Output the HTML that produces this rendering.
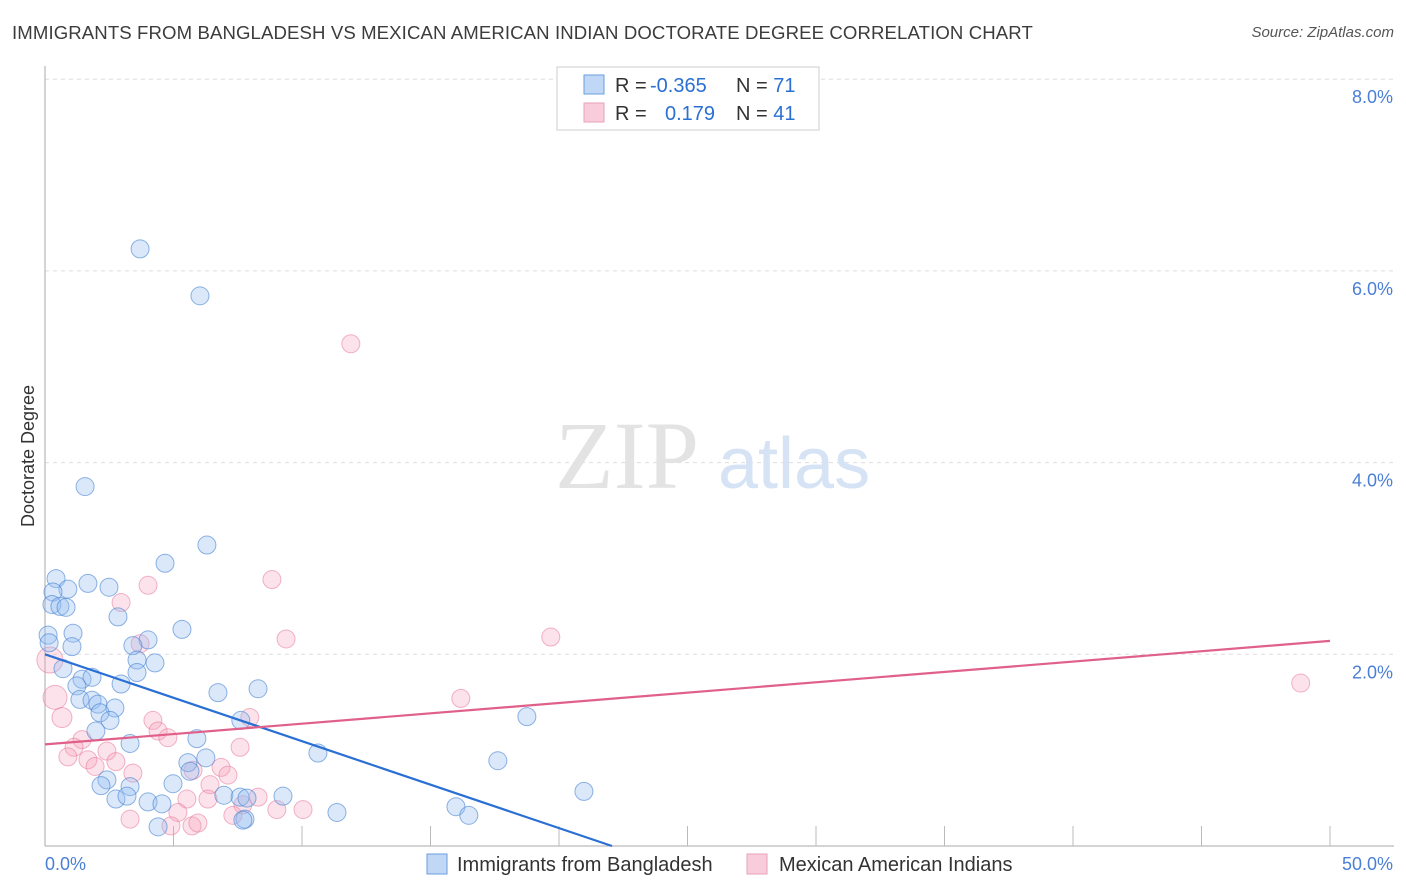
<!DOCTYPE html>
<html><head><meta charset="utf-8">
<style>
body{margin:0;background:#fff;font-family:"Liberation Sans",sans-serif;}
#wrap{position:relative;width:1406px;height:892px;overflow:hidden;}
.title{position:absolute;left:12px;top:22px;font-size:18.6px;color:#3c3c3c;letter-spacing:0.1px}
.src{position:absolute;right:12px;top:24px;font-size:15px;color:#555;font-style:italic}
</style></head><body>
<div id="wrap">
<div class="title">IMMIGRANTS FROM BANGLADESH VS MEXICAN AMERICAN INDIAN DOCTORATE DEGREE CORRELATION CHART</div>
<div class="src">Source: ZipAtlas.com</div>
<svg id="chart" width="1406" height="892" style="position:absolute;left:0;top:0"></svg>
</div>
<script>
const blueX=[3.70,6.03,1.56,6.30,4.67,0.43,1.67,2.49,0.89,0.31,0.27,0.58,0.82,2.84,5.33,4.01,3.42,1.09,1.05,0.12,0.16,3.58,4.28,3.58,0.70,1.44,1.83,2.96,1.24,8.29,6.73,1.36,1.83,2.06,2.72,2.14,2.53,18.75,7.62,1.98,3.31,5.91,6.26,10.62,5.56,5.64,17.62,2.41,2.18,3.31,4.98,20.97,2.76,3.19,4.01,4.55,6.96,7.59,7.86,9.26,11.36,15.99,16.49,7.78,4.40,7.70];
const blueY=[6.23,5.74,3.75,3.14,2.95,2.79,2.74,2.70,2.68,2.65,2.52,2.50,2.49,2.39,2.26,2.15,2.09,2.22,2.08,2.20,2.12,1.94,1.91,1.81,1.85,1.74,1.76,1.69,1.67,1.64,1.60,1.53,1.52,1.48,1.44,1.39,1.31,1.35,1.31,1.20,1.07,1.12,0.92,0.97,0.87,0.78,0.89,0.69,0.63,0.62,0.65,0.57,0.49,0.52,0.46,0.44,0.53,0.51,0.50,0.52,0.35,0.41,0.32,0.28,0.20,0.27];
const pinkX=[11.90,8.83,4.01,2.96,9.38,19.68,48.86,3.70,0.19,0.39,16.18,0.66,4.20,7.97,4.40,4.78,1.44,1.13,2.41,0.89,7.59,1.67,2.76,1.95,5.76,6.85,3.42,7.12,6.42,5.52,6.34,8.29,10.04,7.70,9.02,5.17,3.31,7.31,4.90,5.72,5.95];
const pinkY=[5.24,2.78,2.72,2.54,2.16,2.18,1.70,2.11,1.94,1.55,1.54,1.34,1.31,1.34,1.20,1.13,1.11,1.03,0.99,0.93,1.03,0.90,0.88,0.83,0.79,0.82,0.76,0.74,0.64,0.49,0.49,0.51,0.38,0.43,0.38,0.35,0.28,0.32,0.21,0.21,0.24];
const pinkR=[9,9,9,9,9,9,9,9,13,12,9,10,9,9,9,9,9,9,9,9,9,9,9,9,9,9,9,9,9,9,9,9,9,9,9,9,9,9,9,9,9];
const blueTrend=[2.00,0.00]; const blueTrendX=[0,22.06];
const pinkTrend=[1.06,2.14]; const pinkTrendX=[0,50];
const yTicks=[2,4,6,8];
const yTickLabels=["2.0%","4.0%","6.0%","8.0%"];
const xTicks=[5,10,15,20,25,30,35,40,45,50];

const NS="http://www.w3.org/2000/svg";
const svg=document.getElementById('chart');
const X=v=>45+v/50*1285;
const Y=v=>846-v*95.85;
function mk(t,a,p){const e=document.createElementNS(NS,t);for(const k in a)e.setAttribute(k,a[k]);(p||svg).appendChild(e);return e;}

yTicks.forEach((t,i)=>{
 const g=mk('line',{x1:45,x2:1394,y1:Y(t),y2:Y(t),stroke:'#ddd','stroke-dasharray':'4,4'});
 
 
 const l=mk('text',{x:1393,y:Y(t)+24,'text-anchor':'end','font-size':18,fill:'#4a7fd6','font-family':'Liberation Sans'});
 l.textContent=yTickLabels[i];
 
 
});
const ax=mk('line',{x1:45,x2:45,y1:66,y2:846,stroke:'#aaa'});


const bx=mk('line',{x1:45,x2:1394,y1:846,y2:846,stroke:'#aaa'});


xTicks.forEach(t=>{
 const tk=mk('line',{x1:X(t),x2:X(t),y1:826,y2:846,stroke:'#bbb'});
 
 
});
const wm=mk('text',{x:555,y:488,'font-size':96,fill:'#e3e3e3','font-family':'Liberation Serif'});wm.textContent='ZIP';


const wm2=mk('text',{x:718,y:488,'font-size':72,fill:'#d5e3f5','font-family':'Liberation Sans'});wm2.textContent='atlas';



pinkX.forEach((x,i)=>{
 const c=mk('circle',{cx:X(x),cy:Y(pinkY[i]),r:pinkR[i],fill:'rgba(244,160,185,0.3)',stroke:'rgba(232,120,155,0.55)','stroke-width':1});
 
 
});
blueX.forEach((x,i)=>{
 const c=mk('circle',{cx:X(x),cy:Y(blueY[i]),r:9,fill:'rgba(150,190,240,0.35)',stroke:'rgba(70,130,210,0.6)','stroke-width':1});
 
 
});
const bl=mk('line',{x1:X(blueTrendX[0]),y1:Y(blueTrend[0]),x2:X(blueTrendX[1]),y2:Y(blueTrend[1]),stroke:'#2a6fd4','stroke-width':2.2});


const pl=mk('line',{x1:X(pinkTrendX[0]),y1:Y(pinkTrend[0]),x2:X(pinkTrendX[1]),y2:Y(pinkTrend[1]),stroke:'#e0608a','stroke-width':2.2});



const x0=mk('text',{x:45,y:870,'font-size':18,fill:'#4a7fd6'});x0.textContent='0.0%';


const x1=mk('text',{x:1393,y:870,'text-anchor':'end','font-size':18,fill:'#4a7fd6'});x1.textContent='50.0%';


const yt=mk('text',{x:0,y:0,'font-size':18,fill:'#333',transform:'translate(34,456) rotate(-90)','text-anchor':'middle'});yt.textContent='Doctorate Degree';



const lg=mk('rect',{x:557,y:67,width:262,height:63,fill:'#fff',stroke:'#ccc'});


[[75,'rgba(150,190,240,0.6)','#6a9ee0','R = ','-0.365','71'],[103,'rgba(244,170,195,0.6)','#eaa0b8','R = ','0.179','41']].forEach((r,i)=>{
 const s=mk('rect',{x:584,y:r[0],width:20,height:19,fill:r[1],stroke:r[2]});
 
 
 const t=mk('text',{x:615,y:r[0]+17,'font-size':20,fill:'#333'});
 t.innerHTML='R = <tspan fill="#2a6fd4" x="'+(i?665:650)+'">'+r[4]+'</tspan><tspan x="736" fill="#333">N = </tspan><tspan fill="#2a6fd4">'+r[5]+'</tspan>';
 
 
});
[[427,'rgba(150,190,240,0.6)','#6a9ee0','Immigrants from Bangladesh',457],[747,'rgba(244,170,195,0.6)','#eaa0b8','Mexican American Indians',779]].forEach(r=>{
 const s=mk('rect',{x:r[0],y:854,width:20,height:20,fill:r[1],stroke:r[2]});
 
 
 const t=mk('text',{x:r[4],y:871,'font-size':20,fill:'#333'});t.textContent=r[3];
 
 
});
</script>
</body></html>
